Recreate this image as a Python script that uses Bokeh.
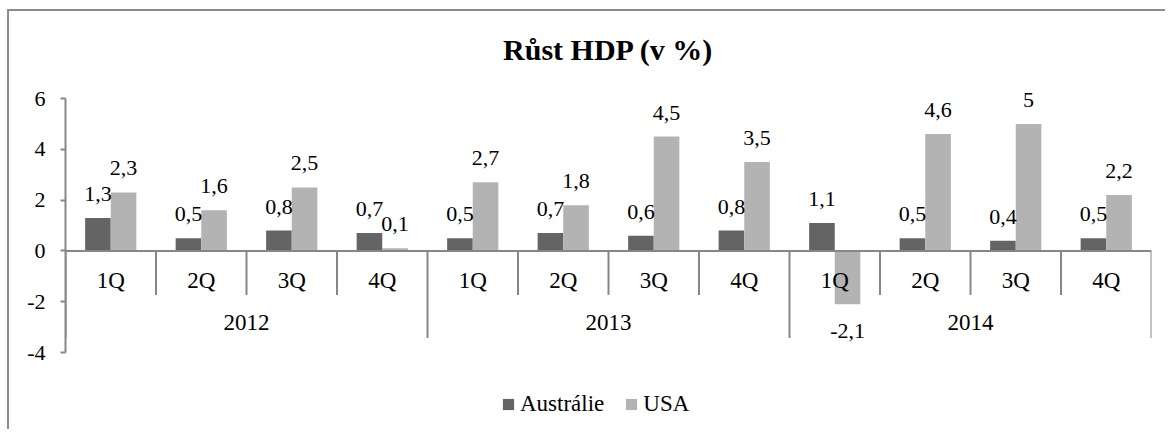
from bokeh.plotting import figure
from bokeh.models import ColumnDataSource, Span, FixedTicker, Legend, LegendItem, Range1d, LabelSet
from bokeh.core.properties import value
from bokeh.embed import file_html
from bokeh.resources import INLINE

# ---- data ----
years = ["2012", "2013", "2014"]
quarters = ["1Q", "2Q", "3Q", "4Q"]
australia = [1.3, 0.5, 0.8, 0.7, 0.5, 0.7, 0.6, 0.8, 1.1, 0.5, 0.4, 0.5]
usa = [2.3, 1.6, 2.5, 0.1, 2.7, 1.8, 4.5, 3.5, -2.1, 4.6, 5.0, 2.2]
y_ticks = [-4, -2, 0, 2, 4, 6]
y_tick_labels = ["-4", "-2", "0", "2", "4", "6"]
series_names = ["Austrálie", "USA"]
title_text = "Růst HDP (v %)"

# ---- style ----
FONT = "Liberation Serif"
DARK = "#646464"
LIGHT = "#b3b3b3"
AXIS = "#868686"
PX_PER_UNIT = 25.4
BAR_W = 0.283
LBL = "22px"
HEADROOM_PX = 28  # empty frame space above the top tick, keeps top labels unclipped

n_q = len(quarters)
n = len(years) * n_q
cat_labels = [q for _ in years for q in quarters]
xc = [i + 0.5 for i in range(n)]


def fmt(v):
    return f"{v:g}".replace(".", ",")


W, H = 1158, 420
top_border = 59
y_end = y_ticks[-1] + HEADROOM_PX / PX_PER_UNIT
y_start = y_end - (H - top_border) / PX_PER_UNIT

p = figure(width=W, height=H, output_backend="svg", toolbar_location=None,
           x_range=Range1d(0, n), y_range=Range1d(y_start, y_end),
           x_axis_type=None, min_border_left=56, min_border_right=16,
           min_border_top=top_border, min_border_bottom=0,
           title=title_text)
p.outline_line_color = None
p.grid.visible = False
p.background_fill_color = "white"
p.border_fill_color = "white"
p.styles = {"margin-left": "7px", "margin-top": "9px",
            "border-left": "2px solid #8c8c8c", "border-top": "2px solid #8c8c8c"}

p.title.align = "center"
p.title.offset = -6
p.title.text_font = FONT
p.title.text_font_size = "30px"
p.title.text_font_style = "bold"
p.title.text_color = "black"
p.title.standoff = 10

ax = p.yaxis[0]
ax.ticker = FixedTicker(ticks=y_ticks)
ax.major_label_overrides = {t: l for t, l in zip(y_ticks, y_tick_labels)}
ax.bounds = (y_ticks[0], y_ticks[-1])
ax.axis_line_color = AXIS
ax.axis_line_width = 2
ax.major_tick_line_color = AXIS
ax.major_tick_line_width = 2
ax.major_tick_out = 5
ax.major_tick_in = 0
ax.minor_tick_line_color = None
ax.major_label_text_font = FONT
ax.major_label_text_font_size = LBL
ax.major_label_text_color = "black"
ax.major_label_standoff = 15

src = ColumnDataSource(dict(
    xa=[x - BAR_W / 2 for x in xc], xu=[x + BAR_W / 2 for x in xc],
    a=australia, u=usa,
    la=[fmt(v) for v in australia], lu=[fmt(v) for v in usa],
    oa=[24 if v >= 0 else -27 for v in australia],
    ou=[24 if v >= 0 else -27 for v in usa],
))

ra = p.vbar(x="xa", top="a", bottom=0, width=BAR_W, source=src, fill_color=DARK, line_color=None)
ru = p.vbar(x="xu", top="u", bottom=0, width=BAR_W, source=src, fill_color=LIGHT, line_color=None)

for xcol, ycol, lcol, ocol in (("xa", "a", "la", "oa"), ("xu", "u", "lu", "ou")):
    p.add_layout(LabelSet(x=xcol, y=ycol, text=lcol, y_offset=ocol, source=src,
                          text_font=value(FONT), text_font_size=LBL, text_color="black",
                          text_align="center", text_baseline="middle"))

# zero axis line
p.add_layout(Span(location=0, dimension="width", line_color=AXIS, line_width=2))

# category separators
q_depth = 44 / PX_PER_UNIT
y_depth = 87 / PX_PER_UNIT
qb = [i for i in range(1, n) if i % n_q != 0]
yb = [i for i in range(0, n + 1) if i % n_q == 0]
p.segment(x0=qb, x1=qb, y0=[0] * len(qb), y1=[-q_depth] * len(qb), line_color=AXIS, line_width=2)
p.segment(x0=yb, x1=yb, y0=[0] * len(yb), y1=[-y_depth] * len(yb), line_color=AXIS, line_width=2)

# category labels
p.text(x=xc, y=[0] * n, text=cat_labels, y_offset=30,
       text_font=value(FONT), text_font_size="23px", text_color="black",
       text_align="center", text_baseline="middle")
ycent = [k * n_q + n_q / 2 for k in range(len(years))]
p.text(x=ycent, y=[0] * len(years), text=years, y_offset=72,
       text_font=value(FONT), text_font_size="23px", text_color="black",
       text_align="center", text_baseline="middle")

legend = Legend(items=[LegendItem(label=series_names[0], renderers=[ra]),
                       LegendItem(label=series_names[1], renderers=[ru])],
                orientation="horizontal", location=(436, 14),
                glyph_width=14, glyph_height=14, label_standoff=5, spacing=20,
                padding=0, margin=0, border_line_color=None, background_fill_alpha=0,
                label_text_font=FONT, label_text_font_size="23px", label_text_color="black")
p.add_layout(legend)

open("out.html", "w").write(file_html(p, INLINE))
